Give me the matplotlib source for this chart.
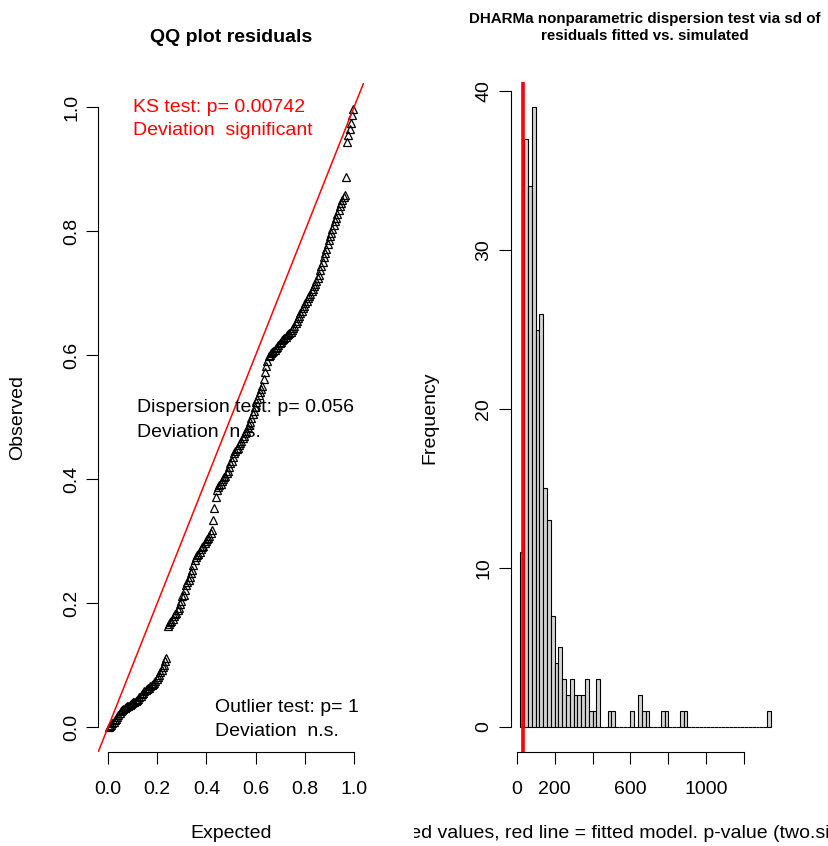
import numpy as np
import matplotlib
matplotlib.use('Agg')
import matplotlib.pyplot as plt
from matplotlib.transforms import Bbox, TransformedBbox

plt.rcParams['font.family'] = ['Liberation Sans', 'DejaVu Sans']

# QQ plot: sorted scaled residuals
observed = [
	0.001, 0.002, 0.004, 0.006, 0.008, 0.011, 0.013, 0.017, 0.020, 0.023,
	0.026, 0.028, 0.030, 0.031, 0.033, 0.034, 0.035, 0.036, 0.038, 0.039,
	0.040, 0.041, 0.042, 0.044, 0.045, 0.048, 0.051, 0.053, 0.055, 0.058,
	0.060, 0.061, 0.063, 0.064, 0.066, 0.068, 0.070, 0.072, 0.075, 0.078,
	0.081, 0.085, 0.089, 0.093, 0.097, 0.101, 0.106, 0.111, 0.163, 0.166,
	0.169, 0.172, 0.175, 0.179, 0.182, 0.185, 0.189, 0.193, 0.198, 0.204,
	0.211, 0.214, 0.222, 0.229, 0.234, 0.238, 0.243, 0.248, 0.254, 0.261,
	0.270, 0.274, 0.277, 0.280, 0.283, 0.287, 0.290, 0.293, 0.297, 0.300,
	0.303, 0.306, 0.309, 0.313, 0.318, 0.334, 0.354, 0.371, 0.382, 0.387,
	0.390, 0.393, 0.397, 0.400, 0.403, 0.406, 0.410, 0.414, 0.420, 0.426,
	0.430, 0.436, 0.442, 0.445, 0.448, 0.451, 0.455, 0.458, 0.462, 0.466,
	0.470, 0.474, 0.478, 0.483, 0.488, 0.493, 0.499, 0.505, 0.510, 0.516,
	0.524, 0.530, 0.536, 0.541, 0.546, 0.551, 0.562, 0.573, 0.582, 0.590,
	0.598, 0.601, 0.603, 0.605, 0.607, 0.609, 0.611, 0.614, 0.617, 0.620,
	0.622, 0.624, 0.626, 0.628, 0.630, 0.632, 0.634, 0.636, 0.638, 0.641,
	0.644, 0.648, 0.652, 0.656, 0.660, 0.664, 0.668, 0.672, 0.676, 0.680,
	0.684, 0.688, 0.692, 0.695, 0.699, 0.703, 0.707, 0.711, 0.715, 0.719,
	0.724, 0.730, 0.737, 0.744, 0.751, 0.758, 0.765, 0.772, 0.779, 0.786,
	0.792, 0.798, 0.804, 0.810, 0.816, 0.822, 0.828, 0.834, 0.840, 0.846,
	0.850, 0.855, 0.858, 0.888, 0.944, 0.955, 0.965, 0.975, 0.987, 0.997,
]
qq_ticks = [0.0, 0.2, 0.4, 0.6, 0.8, 1.0]
qq_tick_labels = ['0.0', '0.2', '0.4', '0.6', '0.8', '1.0']
ks_lines = ['KS test: p= 0.00742', 'Deviation  significant']
disp_lines = ['Dispersion test: p= 0.056', 'Deviation  n.s.']
outlier_lines = ['Outlier test: p= 1', 'Deviation  n.s.']

# dispersion test: histogram of simulated sd (250 simulations)
bin_start = 20
bin_width = 20
sim_counts = [
	11, 37, 34, 39, 25, 26, 15, 13, 7, 4,
	5, 3, 2, 3, 2, 2, 2, 3, 1, 1,
	3, 0, 0, 1, 1, 0, 0, 0, 0, 1,
	0, 2, 1, 1, 0, 0, 0, 1, 1, 0,
	0, 0, 1, 1, 0, 0, 0, 0, 0, 0,
	0, 0, 0, 0, 0, 0, 0, 0, 0, 0,
	0, 0, 0, 0, 0, 1,
]
observed_sd = 35
hist_xticks = [0, 200, 400, 600, 800, 1000, 1200]
hist_xtick_labels = ['0', '200', '', '600', '', '1000', '']
hist_yticks = [0, 10, 20, 30, 40]
hist_title = 'DHARMa nonparametric dispersion test via sd of\nresiduals fitted vs. simulated'
hist_xlabel = 'Simulated values, red line = fitted model. p-value (two.sided) = 0.056'

W, H = 829, 846
FS = 14


def add_axes_px(fig, x0, x1, y0, y1):
	return fig.add_axes([x0 / W, 1 - y1 / H, (x1 - x0) / W, (y1 - y0) / H])


def r_style(ax, xb, yb):
	ax.spines['top'].set_visible(False)
	ax.spines['right'].set_visible(False)
	ax.spines['left'].set_bounds(*yb)
	ax.spines['bottom'].set_bounds(*xb)
	for s in ('left', 'bottom'):
		ax.spines[s].set_linewidth(0.8)
	ax.tick_params(direction='out', length=8.6, width=0.8, labelsize=FS)
	ax.tick_params(axis='x', pad=12.3)
	ax.tick_params(axis='y', pad=4.5)
	plt.setp(ax.get_yticklabels(), rotation=90, va='center')


def plotQQ(fig):
	ax = add_axes_px(fig, 98.2, 363.8, 82.5, 752)
	n = len(observed)
	expected = (np.arange(1, n + 1) - 0.5) / n
	ax.plot(expected, observed, linestyle='none', marker='^', ms=5.5,
		mfc='none', mec='black', mew=0.9)
	ax.axline((0, 0), slope=1, color='red', lw=1.1)
	ax.set_xlim(-0.04, 1.04)
	ax.set_ylim(-0.04, 1.04)
	ax.set_xticks(qq_ticks)
	ax.set_xticklabels(qq_tick_labels)
	ax.set_yticks(qq_ticks)
	ax.set_yticklabels(qq_tick_labels)
	r_style(ax, (0, 1), (0, 1))

	ax.text(0.102, 1.000, ks_lines[0], color='red', fontsize=FS, va='center')
	ax.text(0.102, 0.962, ks_lines[1], color='red', fontsize=FS, va='center')
	ax.text(0.118, 0.515, disp_lines[0], fontsize=FS, va='center')
	ax.text(0.118, 0.476, disp_lines[1], fontsize=FS, va='center')
	ax.text(0.435, 0.031, outlier_lines[0], fontsize=FS, va='center')
	ax.text(0.435, -0.007, outlier_lines[1], fontsize=FS, va='center')

	fig.text(231 / W, 1 - 37 / H, 'QQ plot residuals', fontsize=FS,
		fontweight='bold', ha='center', va='center')
	fig.text(231 / W, 1 - 833 / H, 'Expected', fontsize=FS, ha='center', va='center')
	fig.text(18 / W, 1 - 418 / H, 'Observed', fontsize=FS, ha='center',
		va='center', rotation=90)


def plotHist(fig):
	ax = add_axes_px(fig, 510.6, 779.9, 82.1, 751.8)
	lefts = bin_start + bin_width * np.arange(len(sim_counts))
	ax.bar(lefts, sim_counts, width=bin_width, align='edge', color='#d3d3d3',
		edgecolor='black', linewidth=0.8)
	ax.axvline(observed_sd, color='red', lw=2.6)
	ax.set_xlim(-32, 1388)
	ax.set_ylim(-0.04 * max(sim_counts), 1.04 * max(sim_counts))
	ax.set_xticks(hist_xticks)
	ax.set_xticklabels(hist_xtick_labels)
	ax.set_yticks(hist_yticks)
	ax.set_yticklabels([str(v) for v in hist_yticks])
	r_style(ax, (hist_xticks[0], hist_xticks[-1]), (hist_yticks[0], hist_yticks[-1]))

	fig.text(645 / W, 1 - 27.5 / H, hist_title, fontsize=10.9, fontweight='bold',
		ha='center', va='center', linespacing=1.35)
	fig.text(430 / W, 1 - 418 / H, 'Frequency', fontsize=FS, ha='center',
		va='center', rotation=90)
	# R clips the axis title to the right-hand panel
	lab = fig.text(643 / W, 1 - 833 / H, hist_xlabel, fontsize=FS,
		ha='center', va='center')
	lab.set_clip_box(TransformedBbox(Bbox([[0.5, 0], [1, 1]]), fig.transFigure))
	lab.set_clip_on(True)


if __name__ == "__main__":
	fig = plt.figure(figsize=(W / 100, H / 100), dpi=100)
	plotQQ(fig)
	plotHist(fig)
	fig.savefig('out.png', dpi=100)
